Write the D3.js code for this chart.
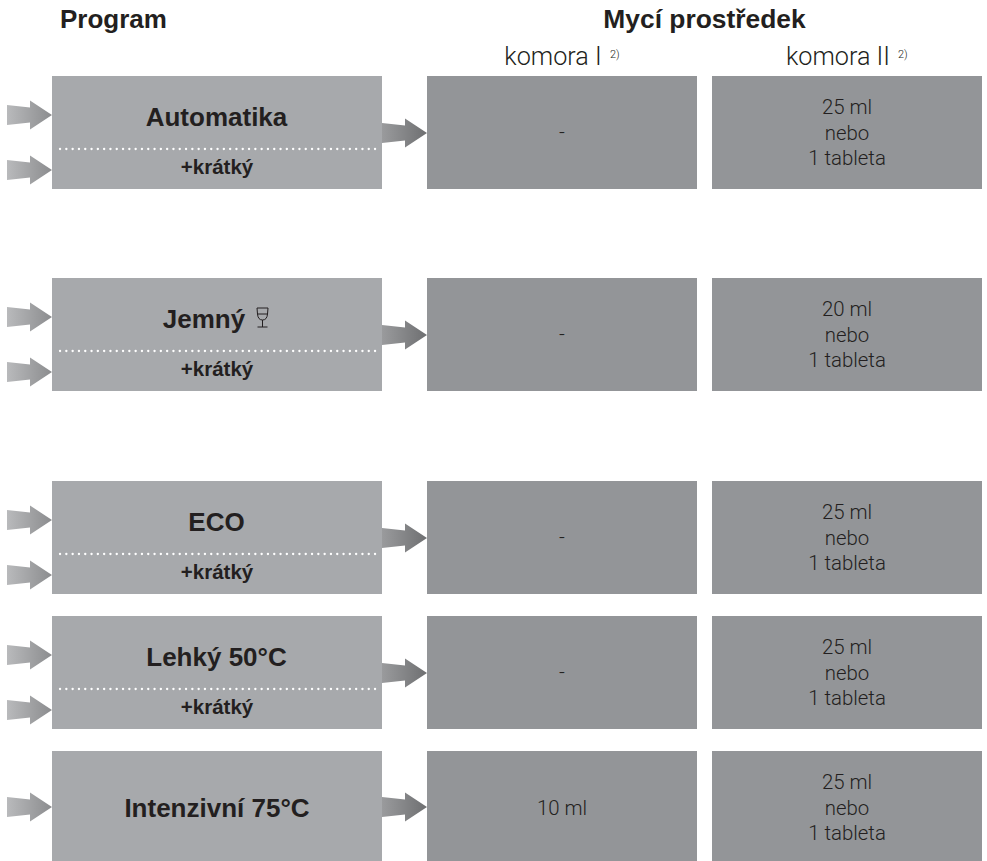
<!DOCTYPE html>
<html>
<head>
<meta charset="utf-8">
<script src="https://cdn.jsdelivr.net/npm/d3@7"></script>
<style>
  body { margin: 0; background: #fff; }
  text { font-family: "Liberation Sans", sans-serif; fill: #231f20; }
  .bold { font-weight: 700; }
  .light { font-family: Roboto, "Liberation Sans", sans-serif; font-weight: 300; }
</style>
</head>
<body>
<svg id="chart"></svg>
<script>
// chart content
const programs = ["Automatika", "Jemný", "ECO", "Lehký 50°C", "Intenzivní 75°C"];
const hasShort = [true, true, true, true, false];
const chamber1 = ["-", "-", "-", "-", "10 ml"];
const chamber2 = ["25 ml", "20 ml", "25 ml", "25 ml", "25 ml"];
const chamber2Rest = ["nebo", "1 tableta"];
const shortLabel = "+krátký";
const columnTitles = ["komora I", "komora II"];
const footnote = "2)";

// layout
const svgWidth = 987, svgHeight = 861;
const rowTop = d3.scaleOrdinal(programs, [76, 278, 481, 616, 751]);
const rowHeight = d3.scaleOrdinal(programs, [113, 113, 113, 113, 110]);

const svg = d3.select("#chart")
  .attr("width", svgWidth)
  .attr("height", svgHeight);

// arrow gradients
const defs = svg.append("defs");
function addGradient(id, from, to) {
  const grad = defs.append("linearGradient").attr("id", id);
  grad.append("stop").attr("offset", "0%").attr("stop-color", from);
  grad.append("stop").attr("offset", "100%").attr("stop-color", to);
}
addGradient("arrowIn", "#b9babc", "#8b8c8e");
addGradient("arrowOut", "#9a9b9d", "#6e6f71");

// arrow is drawn with its tip at (x, y)
const arrowShape = [[-45, -10], [-22, -7.5], [-22, -14.5], [0, 0], [-22, 14.5], [-22, 7.5], [-45, 10]];
const arrowLine = d3.line();
function drawArrow(x, y, gradient) {
  svg.append("path")
    .attr("transform", "translate(" + x + "," + y + ")")
    .attr("d", arrowLine(arrowShape) + "Z")
    .attr("fill", "url(#" + gradient + ")");
}

function drawText(x, y, str, size, cls, anchor) {
  return svg.append("text")
    .attr("class", cls)
    .attr("x", x)
    .attr("y", y)
    .attr("font-size", size)
    .attr("text-anchor", anchor || "middle")
    .text(str);
}

// headings
drawText(60, 28, "Program", 26, "bold", "start");
drawText(704.5, 28, "Mycí prostředek", 26.4, "bold");
drawText(553, 65, columnTitles[0], 25.2, "light");
drawText(610, 58, footnote, 11, "light", "start");
drawText(838, 65, columnTitles[1], 25.2, "light");
drawText(898, 58, footnote, 11, "light", "start");

programs.forEach(function(name, i) {
  const top = rowTop(name), h = rowHeight(name);

  svg.append("rect").attr("x", 52).attr("y", top).attr("width", 330).attr("height", h).attr("fill", "#a7a9ac");
  svg.append("rect").attr("x", 427).attr("y", top).attr("width", 270).attr("height", h).attr("fill", "#939598");
  svg.append("rect").attr("x", 712).attr("y", top).attr("width", 270).attr("height", h).attr("fill", "#939598");

  if (hasShort[i]) {
    drawArrow(52, top + 39, "arrowIn");
    drawArrow(52, top + 94, "arrowIn");
    drawArrow(427, top + 57, "arrowOut");

    let title = drawText(216.5, top + 49.5, name, 26, "bold");

    // wine glass next to Jemný
    if (name === "Jemný") {
      title.attr("x", 204);
      svg.append("path")
        .attr("transform", "translate(262.5," + (top + 30) + ")")
        .attr("d", "M-5.5,0 H5.5 L5,6 Q4.5,12 0,12 Q-4.5,12 -5,6 Z M-5,6 H5 M0,12 V19 M-5,19 H5")
        .attr("fill", "none")
        .attr("stroke", "#231f20")
        .attr("stroke-width", 1);
    }

    // dotted separator
    svg.append("line")
      .attr("x1", 60).attr("x2", 376)
      .attr("y1", top + 73).attr("y2", top + 73)
      .attr("stroke", "#fff")
      .attr("stroke-width", 2.3)
      .attr("stroke-linecap", "round")
      .attr("stroke-dasharray", "0.1 6.2");

    drawText(217, top + 97.5, shortLabel, 20.5, "bold");
  } else {
    drawArrow(52, top + 56, "arrowIn");
    drawArrow(427, top + 56, "arrowOut");
    drawText(217, top + 66, name, 26, "bold");
  }

  // chamber values
  drawText(562, top + (hasShort[i] ? 63 : 64), chamber1[i], 20.4, "light");
  drawText(847, top + 38, chamber2[i], 20.4, "light");
  drawText(847, top + 64, chamber2Rest[0], 20.4, "light");
  drawText(847, top + 89, chamber2Rest[1], 20.4, "light");
});
</script>
</body>
</html>
